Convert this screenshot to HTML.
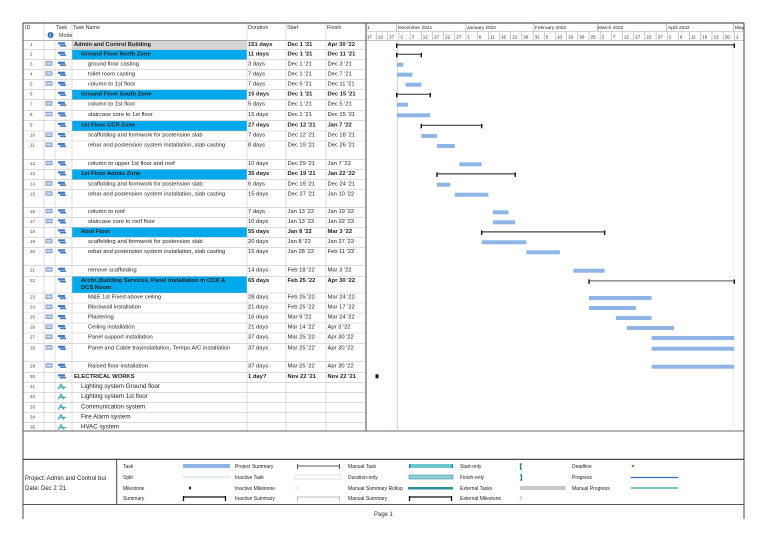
<!DOCTYPE html>
<html><head><meta charset="utf-8"><style>
html,body{margin:0;padding:0;background:#fff;}
svg{display:block;}
text{font-family:"Liberation Sans",sans-serif;fill:#222;}
.n{font-size:5.8px;}
.b{font-weight:bold;}
.h{font-size:5.4px;fill:#333;}
.lg{font-size:5px;fill:#333;}
</style></head><body>
<svg width="768" height="543" viewBox="0 0 768 543" xmlns="http://www.w3.org/2000/svg">
<rect width="768" height="543" fill="#fff"/>
<g>
<rect x="72" y="40.3" width="175" height="9.4" fill="#d6d6d6"/>
<rect x="72" y="49.7" width="175" height="10" fill="#00a8ec"/>
<rect x="72" y="89.7" width="175" height="10" fill="#00a8ec"/>
<rect x="72" y="120.7" width="175" height="10.3" fill="#00a8ec"/>
<rect x="72" y="169.3" width="175" height="10.4" fill="#00a8ec"/>
<rect x="72" y="227.3" width="175" height="10" fill="#00a8ec"/>
<rect x="72" y="276.3" width="175" height="16.7" fill="#00a8ec"/>
</g>
<g stroke="#c8c8c8" stroke-width="0.6">
<line x1="23" x2="366" y1="40.3" y2="40.3" stroke="#888"/>
<line x1="23" x2="366" y1="49.7" y2="49.7"/><line x1="23" x2="366" y1="59.7" y2="59.7"/>
<line x1="23" x2="366" y1="69.7" y2="69.7"/><line x1="23" x2="366" y1="79.7" y2="79.7"/>
<line x1="23" x2="366" y1="89.7" y2="89.7"/><line x1="23" x2="366" y1="99.7" y2="99.7"/>
<line x1="23" x2="366" y1="110.3" y2="110.3"/><line x1="23" x2="366" y1="120.7" y2="120.7"/>
<line x1="23" x2="366" y1="131" y2="131"/><line x1="23" x2="366" y1="141" y2="141"/>
<line x1="23" x2="366" y1="159.3" y2="159.3"/><line x1="23" x2="366" y1="169.3" y2="169.3"/>
<line x1="23" x2="366" y1="179.7" y2="179.7"/><line x1="23" x2="366" y1="189.7" y2="189.7"/>
<line x1="23" x2="366" y1="207.3" y2="207.3"/><line x1="23" x2="366" y1="217.3" y2="217.3"/>
<line x1="23" x2="366" y1="227.3" y2="227.3"/><line x1="23" x2="366" y1="237.3" y2="237.3"/>
<line x1="23" x2="366" y1="247.3" y2="247.3"/><line x1="23" x2="366" y1="265.7" y2="265.7"/>
<line x1="23" x2="366" y1="276.3" y2="276.3"/><line x1="23" x2="366" y1="293" y2="293"/>
<line x1="23" x2="366" y1="303" y2="303"/><line x1="23" x2="366" y1="313" y2="313"/>
<line x1="23" x2="366" y1="323" y2="323"/><line x1="23" x2="366" y1="333" y2="333"/>
<line x1="23" x2="366" y1="343.7" y2="343.7"/><line x1="23" x2="366" y1="361.7" y2="361.7"/>
<line x1="23" x2="366" y1="372.3" y2="372.3"/><line x1="23" x2="366" y1="382.3" y2="382.3"/>
<line x1="23" x2="366" y1="392.3" y2="392.3"/><line x1="23" x2="366" y1="402.7" y2="402.7"/>
<line x1="23" x2="366" y1="412.7" y2="412.7"/><line x1="23" x2="366" y1="422.7" y2="422.7"/>
<line x1="44" x2="44" y1="23" y2="431"/><line x1="55" x2="55" y1="40" y2="431"/>
<line x1="72" x2="72" y1="23" y2="431"/><line x1="247" x2="247" y1="23" y2="431"/>
<line x1="286" x2="286" y1="23" y2="431"/><line x1="326" x2="326" y1="23" y2="431"/>
</g>
<g stroke="#333" stroke-width="0.9" fill="none">
<line x1="23" y1="23" x2="744" y2="23"/>
<line x1="23" y1="23" x2="23" y2="519"/>
<line x1="744" y1="23" x2="744" y2="519"/>
<line x1="366" y1="23" x2="366" y2="431"/>
<line x1="23" y1="431" x2="744" y2="431" stroke="#666"/>
<line x1="23" y1="459.3" x2="744" y2="459.3" stroke-width="1.2"/>
<line x1="23" y1="504.5" x2="744" y2="504.5" stroke="#555"/>
<line x1="116.7" y1="459.3" x2="116.7" y2="504.5"/>
</g>
<text class="h" x="25" y="29">ID</text>
<text class="h" x="56" y="29">Task</text><text class="h" x="59" y="37">Mode</text>
<circle cx="50.5" cy="35" r="3" fill="#2a6ebb"/><text x="49.5" y="37" style="font-size:5px;fill:#fff;font-weight:bold">i</text>
<text class="h" x="73" y="29">Task Name</text>
<text class="h" x="248" y="29">Duration</text>
<text class="h" x="287" y="29">Start</text>
<text class="h" x="327" y="29">Finish</text>
<g stroke="#aaa" stroke-width="0.5">
<line x1="366" x2="744" y1="31.5" y2="31.5"/>
<line x1="366" x2="744" y1="40.3" y2="40.3" stroke="#888"/>
</g>
<g class="h" style="font-size:4.8px">
<text x="367" y="29">1</text>
<text x="398" y="29">December 2021</text>
<text x="467" y="29">January 2022</text>
<text x="535" y="29">February 2022</text>
<text x="598" y="29">March 2022</text>
<text x="668" y="29">April 2022</text>
<text x="735" y="29">May</text>
</g>
<g stroke="#888" stroke-width="0.5">
<line x1="396.7" x2="396.7" y1="23" y2="31.5"/><line x1="466" x2="466" y1="23" y2="31.5"/>
<line x1="534" x2="534" y1="23" y2="31.5"/><line x1="597.3" x2="597.3" y1="23" y2="31.5"/>
<line x1="666.7" x2="666.7" y1="23" y2="31.5"/><line x1="733.3" x2="733.3" y1="23" y2="31.5"/>
</g>
<g id="ticks" class="h" style="font-size:4.5px"></g>
<line x1="397.5" x2="397.5" y1="40.3" y2="431" stroke="#b9dcb0" stroke-width="0.8"/>
<line x1="733.5" x2="733.5" y1="40.3" y2="431" stroke="#eee" stroke-width="0.8"/>
<g id="icons"></g>
<g id="rows"></g>
<g id="bars"></g>
<g class="lg">
<text x="25" y="480" style="font-size:6px">Project: Admin and Control bui</text>
<text x="25" y="490" style="font-size:6px">Date: Dec 2 '21</text>
<text x="123" y="468">Task</text><text x="123" y="479">Split</text><text x="123" y="490">Milestone</text><text x="123" y="500">Summary</text>
<text x="235" y="468">Project Summary</text><text x="235" y="479">Inactive Task</text><text x="235" y="490">Inactive Milestone</text><text x="235" y="500">Inactive Summary</text>
<text x="348" y="468">Manual Task</text><text x="348" y="479">Duration-only</text><text x="348" y="490">Manual Summary Rollup</text><text x="348" y="500">Manual Summary</text>
<text x="460" y="468">Start-only</text><text x="460" y="479">Finish-only</text><text x="460" y="490">External Tasks</text><text x="460" y="500">External Milestone</text>
<text x="572" y="468">Deadline</text><text x="572" y="479">Progress</text><text x="572" y="490">Manual Progress</text>
</g>
<g>
<rect x="183" y="464" width="47" height="4" fill="#8db6e6"/>
<path d="M297 466H340M297.5 464V469M339.5 464V469" stroke="#555" stroke-width="1" fill="none"/>
<rect x="409" y="464" width="44" height="4" fill="#6cc6cf"/><rect x="409" y="464" width="1.2" height="4" fill="#1b7f8a"/><rect x="451.8" y="464" width="1.2" height="4" fill="#1b7f8a"/>
<path d="M522 464H520.5V469H522" stroke="#1b7f8a" stroke-width="1.3" fill="none"/>
<circle cx="633" cy="466" r="1.4" fill="#6aa84f"/>
<line x1="183" x2="230" y1="477" y2="477" stroke="#8db6e6" stroke-dasharray="0.8 0.8"/>
<rect x="295" y="475" width="46" height="4" fill="#fff" stroke="#ccc" stroke-width="0.6"/>
<rect x="409" y="475" width="44" height="4" fill="#8fd3d9" stroke="#1b7f8a" stroke-width="0.5"/>
<path d="M520 475H521.5V480H520" stroke="#1b7f8a" stroke-width="1.3" fill="none"/>
<line x1="631" x2="678" y1="477.5" y2="477.5" stroke="#2f6fbf" stroke-width="1.2"/>
<path d="M190 486L191.5 488L190 490L188.5 488Z" fill="#222"/>
<path d="M297 486L298.3 488L297 490L295.7 488Z" fill="none" stroke="#ccc" stroke-width="0.5"/>
<rect x="408" y="487" width="45" height="2.5" fill="#2c8e9b"/>
<rect x="520" y="486" width="46" height="4" fill="#c8c8c8"/>
<line x1="631" x2="678" y1="488" y2="488" stroke="#2c9fa8" stroke-width="1.2"/>
<path d="M183 497H226M183.5 496V501M225.5 496V501" stroke="#111" stroke-width="1.3" fill="none"/>
<path d="M297 497H340M297.5 496V501M339.5 496V501" stroke="#bbb" stroke-width="1" fill="none"/>
<path d="M409 497H452M409.5 496V501M451.5 496V501" stroke="#111" stroke-width="1.3" fill="none"/>
<path d="M521 496L522.2 498L521 500L519.8 498Z" fill="none" stroke="#999" stroke-width="0.5"/>
</g>
<text x="374" y="516" style="font-size:6px;fill:#333">Page 1</text>
</svg>
<script>
var NS="http://www.w3.org/2000/svg";
function el(p,t,a,txt){var e=document.createElementNS(NS,t);for(var k in a)e.setAttribute(k,a[k]);if(txt!==undefined)e.textContent=txt;p.appendChild(e);return e;}
var X=function(d){return 396.7+2.236*d;};
var tg=document.getElementById("ticks");
var labs=[17,22,27,2,7,12,17,22,27,1,6,11,16,21,26,31,5,10,15,20,25,2,7,12,17,22,27,1,6,11,16,21,26,1];
for(var i=0;i<labs.length;i++){var d=-14+5*i;var x=X(d);
 if(x>367)el(tg,"line",{x1:x,x2:x,y1:31.5,y2:40.3,stroke:"#999","stroke-width":0.5});
 el(tg,"text",{x:x+1.5,y:38.5},String(labs[i]));}
var tops=[40.3,49.7,59.7,69.7,79.7,89.7,99.7,110.3,120.7,131,141,159.3,169.3,179.7,189.7,207.3,217.3,227.3,237.3,247.3,265.7,276.3,293,303,313,323,333,343.7,361.7,372.3,382.3,392.3,402.7,412.7,422.7];
var R=[
["g","Admin and Control Building","151 days","Dec 1 '21","Apr 30 '22",0,151],
["s","Ground Floor North Zone","11 days","Dec 1 '21","Dec 11 '21",0,11],
["t","ground floor casting","3 days","Dec 1 '21","Dec 3 '21",0,3],
["t","toilet room casting","7 days","Dec 1 '21","Dec 7 '21",0,7],
["t","column to 1st floor","7 days","Dec 5 '21","Dec 11 '21",4,11],
["s","Ground Floor South Zone","15 days","Dec 1 '21","Dec 15 '21",0,15],
["t","column to 1st floor","5 days","Dec 1 '21","Dec 5 '21",0,5],
["t","staircase core to 1st floor","15 days","Dec 1 '21","Dec 15 '21",0,15],
["s","1st Floor CCR Zone","27 days","Dec 12 '21","Jan 7 '22",11,38],
["t","scaffolding and formwork for postension slab","7 days","Dec 12 '21","Dec 18 '21",11,18],
["t","rebar and postension system installation, slab casting","8 days","Dec 19 '21","Dec 26 '21",18,26],
["t","column to upper 1st floor and roof","10 days","Dec 29 '21","Jan 7 '22",28,38],
["s","1st Floor Admin Zone","35 days","Dec 19 '21","Jan 22 '22",18,53],
["t","scaffolding and formwork for postension slab","6 days","Dec 19 '21","Dec 24 '21",18,24],
["t","rebar and postension system installation, slab casting","15 days","Dec 27 '21","Jan 10 '22",26,41],
["t","column to roof","7 days","Jan 13 '22","Jan 19 '22",43,50],
["t","staircase core to roof floor","10 days","Jan 13 '22","Jan 22 '22",43,53],
["s","Roof Floor","55 days","Jan 8 '22","Mar 3 '22",38,93],
["t","scaffolding and formwork for postension slab","20 days","Jan 8 '22","Jan 27 '22",38,58],
["t","rebar and postension system installation, slab casting","15 days","Jan 28 '22","Feb 11 '22",58,73],
["t","remove scaffolding","14 days","Feb 18 '22","Mar 3 '22",79,93],
["s","Archi.,Building Services, Panel Installation in CCR &|DCS Room","65 days","Feb 25 '22","Apr 30 '22",86,151],
["t","M&E 1st Fixed above ceiling","28 days","Feb 25 '22","Mar 24 '22",86,114],
["t","Blockwall installation","21 days","Feb 25 '22","Mar 17 '22",86,107],
["t","Plastering","16 days","Mar 9 '22","Mar 24 '22",98,114],
["t","Ceiling installation","21 days","Mar 14 '22","Apr 3 '22",103,124],
["t","Panel support installation","37 days","Mar 25 '22","Apr 30 '22",114,151],
["t","Panel and Cable trayinstallation, Tempo.A/C installation","37 days","Mar 25 '22","Apr 30 '22",114,151],
["t","Raised floor installation","37 days","Mar 25 '22","Apr 30 '22",114,151],
["m","ELECTRICAL WORKS","1 day?","Nov 22 '21","Nov 22 '21",-9,-9],
["e","Lighting system Ground floor"],["e","Lighting system 1st floor"],["e","Communication system"],["e","Fire Alarm system"],["e","HVAC system"]];
var rg=document.getElementById("rows"),bg=document.getElementById("bars"),ig=document.getElementById("icons");
for(var i=0;i<R.length;i++){var r=R[i],t=tops[i],y=t+5.6,ty=r[0];
 el(rg,"text",{x:30,y:y,style:"font-size:4.5px;fill:#444"},String(i+1));
 if(ty=="t"){el(ig,"rect",{x:45.5,y:t+1.5,width:7,height:4.5,fill:"#7d9cc8"});el(ig,"rect",{x:46.5,y:t+2.5,width:5,height:2.5,fill:"#c9d8ee"});}
 if(ty!="e"){el(ig,"rect",{x:58,y:t+2,width:7,height:2.2,fill:"#3f78c4"});el(ig,"rect",{x:60,y:t+4.6,width:6,height:1.6,fill:"#3f78c4"});}
 else{el(ig,"path",{d:"M58 "+(t+7)+"L61 "+(t+2)+"L64 "+(t+7)+"M60 "+(t+5)+"H66",stroke:"#3aa6b9","stroke-width":1.1,fill:"none"});}
 var bold=(ty=="g"||ty=="s"||ty=="m");
 var nx=ty=="g"||ty=="m"?74:(ty=="s"?81:(ty=="e"?81:88));
 var cls="n"+(bold?" b":"");
 var st=ty=="e"?"font-size:6.2px":"";
 var parts=r[1].split("|");
 for(var k=0;k<parts.length;k++)el(rg,"text",{x:nx,y:y+k*7,"class":cls,style:st},parts[k]);
 if(r[2]){el(rg,"text",{x:248,y:y,"class":cls},r[2]);el(rg,"text",{x:287.5,y:y,"class":cls},r[3]);el(rg,"text",{x:327.5,y:y,"class":cls},r[4]);}
 if(r.length>5){var x1=X(r[5]),x2=X(r[6]);
  if(ty=="t")el(bg,"rect",{x:x1,y:t+3,width:x2-x1,height:4,fill:"#8db6e6"});
  else if(ty=="m")el(bg,"rect",{x:375.5,y:t+2,width:3,height:4,fill:"#111"});
  else{var ly=t+4.6;
   el(bg,"path",{d:"M"+x1+" "+ly+"H"+x2,stroke:ty=="s"&&i==21?"#777":"#444","stroke-width":1.2,fill:"none"});
   el(bg,"rect",{x:x1-0.7,y:ly-1.5,width:1.4,height:4.5,fill:"#111"});
   el(bg,"rect",{x:x2-0.7,y:ly-1.5,width:1.4,height:4.5,fill:"#111"});}
 }
}
</script>
</body></html>
